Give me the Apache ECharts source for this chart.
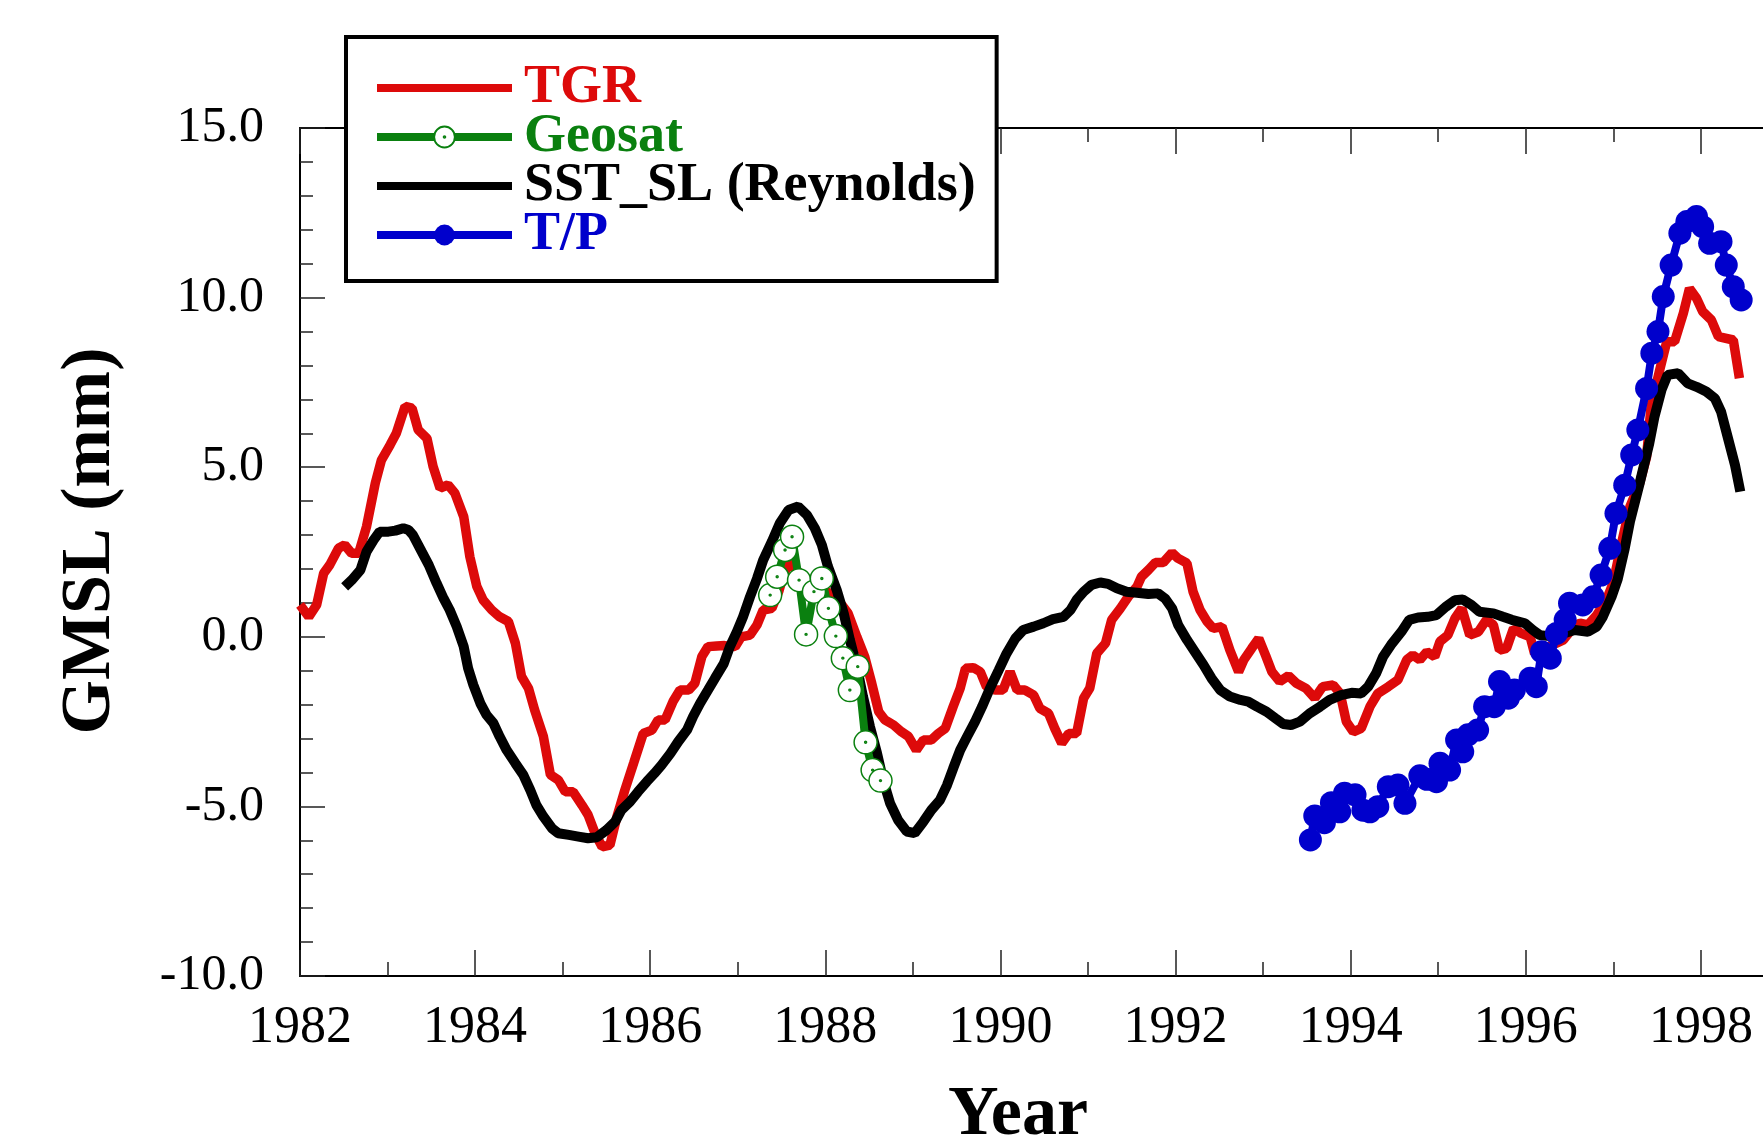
<!DOCTYPE html>
<html><head><meta charset="utf-8">
<script src="https://cdn.jsdelivr.net/npm/echarts@6/dist/echarts.min.js"></script>
<style>html,body{margin:0;padding:0;background:#fff}#c{width:1763px;height:1142px}</style>
</head><body><div id="c"></div>
<script>
// ---------- data ----------
const tgrYears = [1982.00,1982.10,1982.19,1982.27,1982.34,1982.44,1982.51,1982.59,1982.67,1982.76,1982.86,1982.93,1983.03,1983.10,1983.20,1983.28,1983.35,1983.45,1983.52,1983.60,1983.69,1983.77,1983.87,1983.94,1984.02,1984.09,1984.19,1984.28,1984.38,1984.46,1984.53,1984.61,1984.68,1984.78,1984.86,1984.95,1985.03,1985.12,1985.22,1985.29,1985.37,1985.45,1985.54,1985.62,1985.71,1985.81,1985.92,1986.02,1986.09,1986.17,1986.26,1986.34,1986.44,1986.51,1986.59,1986.66,1986.76,1986.85,1986.97,1987.04,1987.14,1987.22,1987.29,1987.39,1987.47,1987.52,1987.58,1987.66,1987.75,1987.85,1987.96,1988.04,1988.13,1988.20,1988.26,1988.36,1988.45,1988.53,1988.61,1988.68,1988.78,1988.87,1988.95,1989.04,1989.12,1989.21,1989.29,1989.37,1989.46,1989.54,1989.60,1989.69,1989.77,1989.84,1989.94,1990.03,1990.11,1990.19,1990.28,1990.38,1990.45,1990.55,1990.62,1990.70,1990.78,1990.87,1990.95,1991.02,1991.10,1991.20,1991.27,1991.37,1991.46,1991.56,1991.61,1991.69,1991.77,1991.86,1991.96,1992.03,1992.13,1992.20,1992.28,1992.36,1992.43,1992.53,1992.62,1992.72,1992.78,1992.87,1992.95,1993.03,1993.10,1993.19,1993.29,1993.38,1993.49,1993.59,1993.68,1993.80,1993.88,1993.95,1994.03,1994.12,1994.22,1994.31,1994.43,1994.54,1994.64,1994.71,1994.79,1994.87,1994.96,1995.02,1995.11,1995.19,1995.27,1995.36,1995.46,1995.55,1995.63,1995.70,1995.78,1995.86,1995.95,1996.05,1996.10,1996.20,1996.30,1996.43,1996.55,1996.62,1996.71,1996.81,1996.92,1997.00,1997.08,1997.19,1997.30,1997.38,1997.43,1997.53,1997.61,1997.70,1997.80,1997.87,1997.95,1998.02,1998.12,1998.20,1998.37,1998.44];
const tgrValues = [0.94,0.59,0.94,1.87,2.12,2.61,2.71,2.46,2.46,3.25,4.53,5.21,5.66,6.00,6.79,6.74,6.10,5.85,5.02,4.38,4.48,4.23,3.54,2.36,1.48,1.09,0.79,0.59,0.45,-0.19,-1.17,-1.52,-2.16,-2.94,-4.07,-4.22,-4.57,-4.57,-4.96,-5.25,-5.79,-6.19,-6.14,-5.30,-4.52,-3.73,-2.85,-2.75,-2.45,-2.45,-1.91,-1.57,-1.57,-1.37,-0.58,-0.29,-0.27,-0.26,-0.29,0.00,0.05,0.35,0.79,0.84,1.35,1.80,2.16,2.00,1.75,1.55,1.40,1.30,1.10,0.90,0.69,0.00,-0.59,-1.37,-2.21,-2.45,-2.60,-2.80,-2.94,-3.34,-3.04,-3.04,-2.85,-2.70,-2.06,-1.52,-0.93,-0.91,-1.03,-1.47,-1.57,-1.57,-1.03,-1.57,-1.57,-1.72,-2.11,-2.26,-2.70,-3.14,-2.85,-2.85,-1.81,-1.52,-0.49,-0.19,0.50,0.84,1.18,1.48,1.77,1.97,2.19,2.19,2.48,2.31,2.17,1.33,0.79,0.45,0.25,0.30,-0.39,-1.03,-0.68,-0.34,-0.05,-0.56,-1.03,-1.32,-1.15,-1.37,-1.52,-1.81,-1.47,-1.42,-1.67,-2.50,-2.80,-2.70,-2.06,-1.67,-1.47,-1.27,-0.68,-0.54,-0.68,-0.44,-0.59,-0.14,0.05,0.54,0.84,0.05,0.15,0.50,0.35,-0.39,-0.34,0.25,0.10,0.00,-0.49,-0.35,-0.25,-0.09,0.30,0.40,0.35,0.64,1.08,1.60,2.60,3.84,4.52,5.31,6.78,7.87,8.70,8.70,9.54,10.27,9.98,9.59,9.34,8.85,8.75,7.62];

const geosatYears = [1987.37,1987.45,1987.54,1987.62,1987.70,1987.78,1987.87,1987.96,1988.035,1988.12,1988.20,1988.28,1988.37,1988.46,1988.54,1988.63];
const geosatValues = [1.23,1.77,2.56,2.95,1.67,0.07,1.33,1.72,0.84,0.02,-0.63,-1.57,-0.88,-3.11,-3.93,-4.24];

const sstYears = [1982.51,1982.59,1982.69,1982.76,1982.84,1982.91,1983.01,1983.09,1983.18,1983.24,1983.29,1983.39,1983.47,1983.56,1983.64,1983.71,1983.79,1983.87,1983.92,1983.98,1984.06,1984.13,1984.21,1984.28,1984.36,1984.46,1984.55,1984.63,1984.70,1984.78,1984.88,1984.95,1985.07,1985.18,1985.29,1985.39,1985.50,1985.60,1985.67,1985.77,1985.86,1985.96,1986.05,1986.13,1986.23,1986.32,1986.42,1986.49,1986.57,1986.66,1986.74,1986.84,1986.91,1986.99,1987.06,1987.14,1987.22,1987.29,1987.39,1987.48,1987.58,1987.69,1987.79,1987.88,1987.96,1988.03,1988.13,1988.21,1988.28,1988.36,1988.43,1988.51,1988.59,1988.66,1988.74,1988.83,1988.93,1989.02,1989.12,1989.21,1989.31,1989.39,1989.46,1989.54,1989.62,1989.71,1989.79,1989.88,1989.98,1990.07,1990.17,1990.26,1990.38,1990.49,1990.60,1990.72,1990.80,1990.87,1990.95,1991.04,1991.14,1991.23,1991.33,1991.44,1991.56,1991.69,1991.80,1991.88,1991.96,1992.03,1992.13,1992.22,1992.32,1992.41,1992.51,1992.62,1992.74,1992.83,1992.93,1993.04,1993.14,1993.23,1993.32,1993.42,1993.53,1993.65,1993.76,1993.89,1994.01,1994.12,1994.20,1994.29,1994.37,1994.46,1994.58,1994.67,1994.77,1994.88,1994.98,1995.09,1995.19,1995.28,1995.38,1995.47,1995.63,1995.74,1995.84,1995.99,1996.08,1996.16,1996.27,1996.43,1996.56,1996.71,1996.81,1996.88,1996.98,1997.05,1997.13,1997.19,1997.30,1997.41,1997.47,1997.55,1997.62,1997.74,1997.85,1997.95,1998.06,1998.16,1998.23,1998.31,1998.39,1998.45];
const sstValues = [1.47,1.67,1.97,2.51,2.85,3.10,3.10,3.13,3.20,3.15,3.00,2.51,2.12,1.58,1.13,0.79,0.30,-0.29,-0.93,-1.42,-1.96,-2.30,-2.55,-2.94,-3.34,-3.73,-4.07,-4.52,-4.96,-5.30,-5.65,-5.79,-5.84,-5.89,-5.94,-5.91,-5.70,-5.45,-5.11,-4.86,-4.57,-4.27,-4.02,-3.78,-3.44,-3.09,-2.75,-2.35,-1.96,-1.57,-1.22,-0.79,-0.29,0.15,0.59,1.18,1.72,2.26,2.81,3.35,3.74,3.84,3.59,3.20,2.71,2.07,1.38,0.69,-0.09,-0.88,-1.76,-2.65,-3.43,-4.22,-4.91,-5.40,-5.74,-5.79,-5.45,-5.11,-4.81,-4.37,-3.88,-3.34,-2.94,-2.50,-2.06,-1.52,-0.98,-0.49,-0.05,0.20,0.30,0.40,0.52,0.59,0.79,1.09,1.33,1.53,1.60,1.56,1.43,1.33,1.30,1.26,1.28,1.13,0.84,0.35,-0.09,-0.44,-0.83,-1.22,-1.57,-1.76,-1.86,-1.91,-2.06,-2.21,-2.40,-2.57,-2.60,-2.50,-2.26,-2.06,-1.86,-1.72,-1.65,-1.67,-1.47,-1.08,-0.59,-0.24,0.15,0.50,0.57,0.59,0.64,0.89,1.08,1.10,0.94,0.74,0.69,0.59,0.50,0.40,0.20,0.05,0.02,0.10,0.20,0.15,0.30,0.59,1.18,1.70,2.60,3.40,4.52,5.70,6.49,7.28,7.72,7.77,7.47,7.37,7.23,7.03,6.64,5.85,5.06,4.28];

const tpYears = [1993.54,1993.59,1993.70,1993.78,1993.875,1993.93,1994.05,1994.14,1994.22,1994.31,1994.43,1994.54,1994.62,1994.79,1994.87,1994.98,1995.02,1995.13,1995.21,1995.28,1995.34,1995.45,1995.53,1995.64,1995.70,1995.80,1995.87,1996.05,1996.12,1996.18,1996.28,1996.35,1996.45,1996.50,1996.65,1996.77,1996.86,1996.96,1997.03,1997.13,1997.21,1997.28,1997.38,1997.44,1997.51,1997.57,1997.66,1997.76,1997.84,1997.95,1998.02,1998.10,1998.23,1998.29,1998.37,1998.46];
const tpValues = [-5.99,-5.28,-5.48,-4.89,-5.16,-4.61,-4.66,-5.11,-5.16,-5.01,-4.42,-4.37,-4.91,-4.10,-4.20,-4.27,-3.73,-3.93,-3.04,-3.39,-2.89,-2.75,-2.06,-2.06,-1.32,-1.81,-1.57,-1.22,-1.47,-0.44,-0.63,0.10,0.50,0.99,0.94,1.18,1.82,2.61,3.64,4.47,5.36,6.10,7.32,8.36,9.00,10.03,10.96,11.90,12.24,12.39,12.09,11.60,11.65,10.96,10.32,9.93];

const seriesNames = ['TGR', 'Geosat', 'SST_SL (Reynolds)', 'T/P'];
const xTickMin = 1982, xTickMax = 2000, xLastLabel = 1998;
const yTickMin = -10, yTickMax = 15;

// ---------- chart ----------
const RED = '#dd0a0a', GREEN = '#0a800f', BLACK = '#000000', BLUE = '#0000cc';
const FONT = 'Liberation Serif';
const pairs = (xs, ys) => xs.map((x, i) => [x, ys[i]]);
const geosatSymbol = 'path://M0,-10A10,10,0,1,1,0,10A10,10,0,1,1,0,-10ZM0,-0.8A0.8,0.8,0,1,1,0,0.8A0.8,0.8,0,1,1,0,-0.8Z';

const tickStyle = {color: '#222', width: 1.5};
function xAxisDef(pos, labels) {
  return {
    type: 'value', position: pos, min: xTickMin, max: xTickMax, interval: 2,
    axisLine: {show: true, onZero: false, lineStyle: {color: '#000', width: 2}},
    axisTick: {show: true, inside: true, length: 26, lineStyle: tickStyle},
    minorTick: {show: true, splitNumber: 2, length: 14, lineStyle: tickStyle},
    splitLine: {show: false}, minorSplitLine: {show: false},
    axisLabel: {
      show: labels, margin: 26, fontFamily: FONT, fontSize: 52, color: '#000',
      formatter: v => (v <= xLastLabel && Math.abs(v % 2) < 1e-9) ? String(Math.round(v)) : ''
    }
  };
}

const chart = echarts.init(document.getElementById('c'), null, {renderer: 'canvas'});
chart.setOption({
  animation: false,
  backgroundColor: '#fff',
  grid: {left: 300, top: 128, width: 1576, height: 848, containLabel: false, outerBoundsMode: 'none'},
  xAxis: [xAxisDef('bottom', true), xAxisDef('top', false)],
  yAxis: {
    type: 'value', position: 'left', min: yTickMin, max: yTickMax, interval: 5,
    axisLine: {show: true, onZero: false, lineStyle: {color: '#000', width: 2}},
    axisTick: {show: true, inside: true, length: 25, lineStyle: tickStyle},
    minorTick: {show: true, splitNumber: 5, length: 13, lineStyle: tickStyle},
    splitLine: {show: false}, minorSplitLine: {show: false},
    axisLabel: {margin: 36, fontFamily: FONT, fontSize: 50, color: '#000', formatter: v => v.toFixed(1)}
  },
  legend: {
    orient: 'vertical', left: 346, top: 37,
    padding: [24, 21, 19, 27],
    backgroundColor: '#fff', borderColor: '#000', borderWidth: 4,
    itemWidth: 135, itemHeight: 26, itemGap: -5,
    selectedMode: false,
    lineStyle: {width: 8},
    textStyle: {fontFamily: FONT, fontWeight: 'bold', fontSize: 54, padding: [0, 0, 0, 7]},
    data: [
      {name: seriesNames[0], textStyle: {color: RED}, itemStyle: {opacity: 0}},
      {name: seriesNames[1], textStyle: {color: GREEN}},
      {name: seriesNames[2], textStyle: {color: BLACK}, itemStyle: {opacity: 0}},
      {name: seriesNames[3], textStyle: {color: BLUE}}
    ],
    z: 10
  },
  graphic: [
    {type: 'text', x: 91, y: 541, rotation: Math.PI / 2, z: 10,
     style: {text: 'GMSL (mm)', fontFamily: FONT, fontWeight: 'bold', fontSize: 70, fill: '#000', align: 'center', verticalAlign: 'middle'}},
    {type: 'text', x: 1018, y: 1116, z: 10,
     style: {text: 'Year', fontFamily: FONT, fontWeight: 'bold', fontSize: 70, fill: '#000', align: 'center', verticalAlign: 'middle'}}
  ],
  series: [
    {name: seriesNames[0], type: 'line', data: pairs(tgrYears, tgrValues), showSymbol: false, symbol: 'none',
     lineStyle: {color: RED, width: 9.5}, itemStyle: {color: RED}, z: 2},
    {name: seriesNames[2], type: 'line', data: pairs(sstYears, sstValues), showSymbol: false, symbol: 'none',
     lineStyle: {color: BLACK, width: 10}, itemStyle: {color: BLACK}, z: 3},
    {name: seriesNames[1], type: 'line', data: pairs(geosatYears, geosatValues), symbol: geosatSymbol, symbolSize: 23,
     lineStyle: {color: GREEN, width: 8}, itemStyle: {color: '#fff', borderColor: GREEN, borderWidth: 1.5}, z: 4},
    {name: seriesNames[3], type: 'line', data: pairs(tpYears, tpValues), symbol: 'circle', symbolSize: 23,
     lineStyle: {color: BLUE, width: 8}, itemStyle: {color: BLUE}, z: 5}
  ]
});
</script></body></html>
